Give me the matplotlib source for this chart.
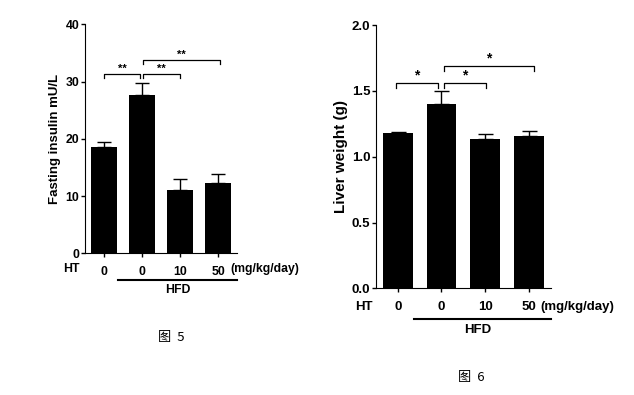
import numpy as np
import matplotlib as mpl
mpl.use('Agg')
import matplotlib.pyplot as plt

plt.rcParams['font.family'] = ['Liberation Sans', 'DejaVu Sans']
plt.rcParams['font.weight'] = 'bold'

# data
groups = ['0', '0', '10', '50']
insulin_mean = [18.6, 27.6, 11.1, 12.2]
insulin_err = [0.9, 2.1, 1.8, 1.6]
liver_mean = [1.177, 1.398, 1.136, 1.159]
liver_err = [0.012, 0.10, 0.034, 0.036]
insulin_sig = [(0.0, 0.95, 31.3, '**'), (1.02, 2.0, 31.3, '**'), (1.02, 3.06, 33.8, '**')]
liver_sig = [(-0.05, 0.93, 1.562, '*'), (1.05, 2.02, 1.562, '*'), (1.06, 3.12, 1.69, '*')]


def draw_panel(ax, means, errs, ylim, yticks, ylabel, sig, fs, lab_fs, capsize, tick_drop, star_fs):
    x = np.arange(len(means))
    ax.bar(x, means, width=0.68, color='black', zorder=2)
    ax.errorbar(x, means, yerr=[np.zeros(len(errs)), errs], fmt='none',
                ecolor='black', elinewidth=1, capsize=capsize, capthick=1, zorder=1)
    ax.set_xlim(-0.5, 3.5)
    ax.set_ylim(*ylim)
    ax.set_yticks(yticks)
    ax.set_xticks(x)
    ax.set_xticklabels(groups, fontsize=fs, fontweight='bold')
    ax.tick_params(axis='y', labelsize=fs, length=3, width=1, pad=1)
    ax.tick_params(axis='x', length=3, width=1, pad=6)
    for lbl in ax.get_yticklabels():
        lbl.set_fontweight('bold')
    ax.spines['top'].set_visible(False)
    ax.spines['right'].set_visible(False)
    ax.set_ylabel(ylabel, fontsize=lab_fs, fontweight='bold', labelpad=3)
    # significance brackets
    for x0, x1, y, txt in sig:
        ax.plot([x0, x0, x1, x1], [y - tick_drop, y, y, y - tick_drop],
                color='black', lw=0.9, clip_on=False)
        ax.text((x0 + x1) / 2, y, txt, ha='center', va='bottom',
                fontsize=star_fs, fontweight='bold')


fig = plt.figure(figsize=(6.34, 3.95), dpi=100)

ax1 = fig.add_axes([0.134, 0.3587, 0.240, 0.5797])
draw_panel(ax1, insulin_mean, insulin_err, (0, 40), [0, 10, 20, 30, 40],
           'Fasting insulin mU/L', insulin_sig, 8.8, 9.5, 4.7, 0.7, 8)
ax1.text(-0.85, -0.07, 'HT', transform=ax1.get_xaxis_transform(), ha='center',
         va='center', fontsize=8.8, fontweight='bold')
ax1.text(3.32, -0.07, '(mg/kg/day)', transform=ax1.get_xaxis_transform(), ha='left',
         va='center', fontsize=8.8, fontweight='bold')
ax1.plot([0.36, 3.5], [-0.115, -0.115], color='black', lw=1.5,
         transform=ax1.get_xaxis_transform(), clip_on=False)
ax1.text(1.93, -0.16, 'HFD', transform=ax1.get_xaxis_transform(), ha='center',
         va='center', fontsize=8.8, fontweight='bold')

ax2 = fig.add_axes([0.593, 0.270, 0.2756, 0.6666])
draw_panel(ax2, liver_mean, liver_err, (0, 2.0), [0.0, 0.5, 1.0, 1.5, 2.0],
           'Liver weight (g)', liver_sig, 9.5, 11, 5.4, 0.04, 10)
ax2.yaxis.set_major_formatter(mpl.ticker.FormatStrFormatter('%.1f'))
ax2.text(-0.78, -0.07, 'HT', transform=ax2.get_xaxis_transform(), ha='center',
         va='center', fontsize=9.5, fontweight='bold')
ax2.text(3.27, -0.07, '(mg/kg/day)', transform=ax2.get_xaxis_transform(), ha='left',
         va='center', fontsize=9.5, fontweight='bold')
ax2.plot([0.36, 3.5], [-0.118, -0.118], color='black', lw=1.5,
         transform=ax2.get_xaxis_transform(), clip_on=False)
ax2.text(1.84, -0.16, 'HFD', transform=ax2.get_xaxis_transform(), ha='center',
         va='center', fontsize=9.5, fontweight='bold')

fig.text(171 / 634, 1 - 338 / 395, '图  5', ha='center', va='center', fontsize=9.5,
         family=['Noto Sans CJK SC', 'DejaVu Sans'], fontweight='normal')
fig.text(471 / 634, 1 - 378 / 395, '图  6', ha='center', va='center', fontsize=9.5,
         family=['Noto Sans CJK SC', 'DejaVu Sans'], fontweight='normal')

fig.savefig('out.png', dpi=100)
